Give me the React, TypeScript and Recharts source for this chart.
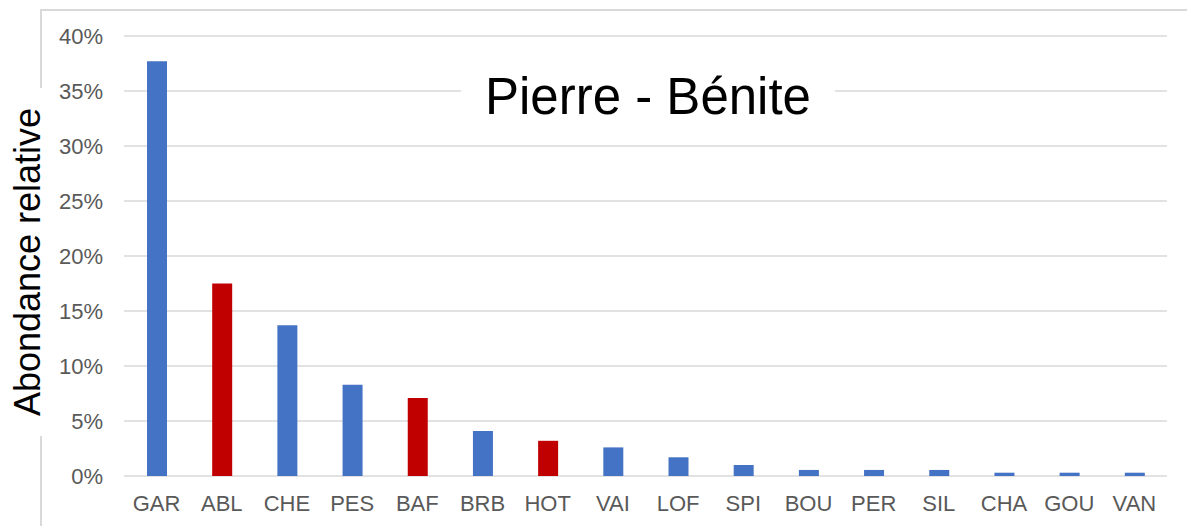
import { BarChart, Bar, XAxis, YAxis, CartesianGrid, Cell } from 'recharts';

const species = ['GAR', 'ABL', 'CHE', 'PES', 'BAF', 'BRB', 'HOT', 'VAI', 'LOF', 'SPI', 'BOU', 'PER', 'SIL', 'CHA', 'GOU', 'VAN'];
const abundance = [37.7, 17.5, 13.7, 8.3, 7.1, 4.1, 3.2, 2.6, 1.7, 1.0, 0.55, 0.55, 0.55, 0.3, 0.3, 0.3];
// highlighted species (red bars)
const highlighted = ['ABL', 'BAF', 'HOT'];
const yTicks = [0, 5, 10, 15, 20, 25, 30, 35, 40];

const data = species.map((name, i) => ({ name, value: abundance[i] }));

const font = '"Liberation Sans", Arial, sans-serif';

export default function App() {
  return (
    <div style={{ position: 'absolute', left: 0, top: 0, width: 1187, height: 526, background: '#fff', overflow: 'hidden', fontFamily: font }}>
      {/* outer frame: top and left edges only */}
      <div style={{ position: 'absolute', left: 40, top: 9, width: 1147, height: 2, background: '#d9d9d9' }} />
      <div style={{ position: 'absolute', left: 40, top: 9, width: 2, height: 517, background: '#d9d9d9' }} />

      <div style={{ position: 'absolute', left: 0, top: 0 }}>
        <BarChart width={1187} height={526} data={data} margin={{ top: 36, right: 20, bottom: 0, left: 0 }}>
          <CartesianGrid vertical={false} stroke="#d9d9d9" strokeWidth={1.5} />
          <XAxis
            dataKey="name"
            height={50}
            axisLine={false}
            tickLine={false}
            tickSize={0}
            tickMargin={19}
            interval={0}
            tick={{ fill: '#595959', fontSize: 22, fontFamily: font }}
          />
          <YAxis
            width={124}
            domain={[0, 40]}
            ticks={yTicks}
            axisLine={false}
            tickLine={false}
            tickSize={0}
            tickMargin={21}
            tickFormatter={(v) => `${v}%`}
            tick={{ fill: '#595959', fontSize: 22, fontFamily: font }}
          />
          <Bar dataKey="value" barSize={20} isAnimationActive={false}>
            {data.map((d) => (
              <Cell key={d.name} fill={highlighted.includes(d.name) ? '#c00000' : '#4472c4'} />
            ))}
          </Bar>
        </BarChart>
      </div>

      {/* Title */}
      <div
        style={{
          position: 'absolute',
          left: 648,
          top: 97,
          transform: 'translate(-50%, -50%)',
          background: '#fff',
          padding: '0 24px',
          fontSize: 51,
          color: '#000',
          whiteSpace: 'nowrap',
          lineHeight: 1.1,
        }}
      >
        Pierre - Bénite
      </div>

      {/* Y axis title */}
      <div
        style={{
          position: 'absolute',
          left: 28,
          top: 262,
          transform: 'translate(-50%, -50%) rotate(-90deg)',
          background: '#fff',
          padding: '0 20px',
          fontSize: 36,
          color: '#000',
          whiteSpace: 'nowrap',
          lineHeight: 1.2,
        }}
      >
        Abondance relative
      </div>
    </div>
  );
}
